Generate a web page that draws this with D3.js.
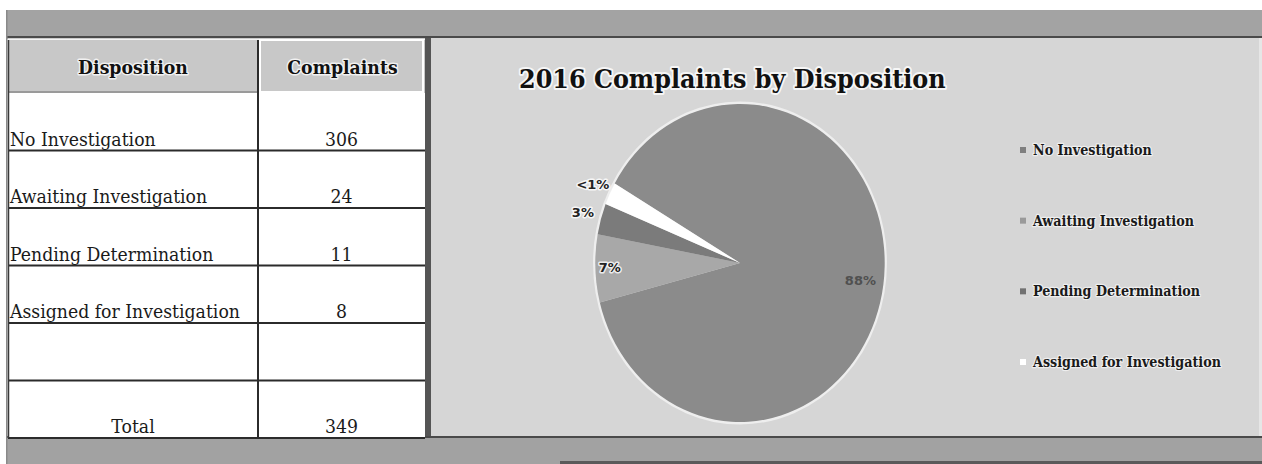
<!DOCTYPE html>
<html>
<head>
<meta charset="utf-8">
<script src="https://cdn.jsdelivr.net/npm/d3@7"></script>
<style>
  html, body { margin: 0; padding: 0; background: #ffffff; }
  svg { display: block; }
</style>
</head>
<body>
<svg id="chart" width="1262" height="464"></svg>
<script>
// Complaint dispositions for 2016
const categories = ["No Investigation", "Awaiting Investigation", "Pending Determination", "Assigned for Investigation"];
const complaints = [306, 24, 11, 8];
const totalLabel = "Total";
const totalValue = 349;
const sliceLabels = ["88%", "7%", "3%", "<1%"];
const headers = ["Disposition", "Complaints"];
const chartTitle = "2016 Complaints by Disposition";

const W = 1262, H = 464;
const svg = d3.select("#chart");
const SX = 0.91; // horizontal squeeze used for all lettering and the pie

// text helper: places text with a horizontal squeeze
function label(g, x, y, str, opts) {
  const t = g.append("text")
    .attr("transform", `translate(${x},${y}) scale(${SX},1)`)
    .attr("text-anchor", opts.anchor || "start")
    .attr("font-family", opts.family || "'DejaVu Serif', serif")
    .attr("font-size", opts.size)
    .attr("font-weight", opts.weight || "normal")
    .attr("fill", opts.fill || "#111")
    .text(str);
  if (opts.halo) {
    t.attr("stroke", "#ffffff")
     .attr("stroke-opacity", opts.haloOpacity || 0.75)
     .attr("stroke-width", opts.halo)
     .attr("stroke-linejoin", "round")
     .attr("paint-order", "stroke");
  }
  return t;
}

// ---- frame bands ----
svg.append("rect").attr("x", 7).attr("y", 10).attr("width", W - 7).attr("height", 27).attr("fill", "#a3a3a3");
svg.append("rect").attr("x", 7).attr("y", 36).attr("width", W - 7).attr("height", 2.5).attr("fill", "#4a4a4a");
svg.append("rect").attr("x", 7).attr("y", 437).attr("width", W - 7).attr("height", 27).attr("fill", "#a2a2a2");
svg.append("rect").attr("x", 7).attr("y", 436).attr("width", W - 7).attr("height", 2).attr("fill", "#4a4a4a");
svg.append("rect").attr("x", 560).attr("y", 461).attr("width", W - 560).attr("height", 3).attr("fill", "#5a5a5a");
svg.append("rect").attr("x", 6).attr("y", 10).attr("width", 1.5).attr("height", H - 10).attr("fill", "#8a8a8a");

// ---- table ----
const table = svg.append("g");
const tLeft = 8, tMid = 258, tRight = 425;
const headTop = 40, headBottom = 93, tBottom = 438;
const rows = categories.map((c, i) => ({ name: c, value: String(complaints[i]) }))
  .concat([{ name: "", value: "" }, { name: totalLabel, value: String(totalValue), center: true }]);
const rowY = d3.scaleBand().domain(d3.range(rows.length)).range([headBottom, tBottom]);

table.append("rect").attr("x", tLeft).attr("y", headBottom).attr("width", tRight - tLeft).attr("height", tBottom - headBottom).attr("fill", "#ffffff");
table.append("rect").attr("x", tLeft).attr("y", headTop).attr("width", tRight - tLeft).attr("height", headBottom - headTop).attr("fill", "#c8c8c8");
table.append("rect").attr("x", tLeft).attr("y", 38.5).attr("width", tRight - tLeft).attr("height", 1.5).attr("fill", "#f4f4f4");
// white inset border round the second header cell
table.append("rect").attr("x", tMid + 2).attr("y", headTop).attr("width", tRight - tMid - 4).attr("height", headBottom - headTop - 1)
  .attr("fill", "none").attr("stroke", "#ffffff").attr("stroke-width", 2);
table.append("rect").attr("x", tLeft).attr("y", headBottom - 2).attr("width", tMid - tLeft).attr("height", 2).attr("fill", "#9a9a9a");

// grid lines
rows.forEach((r, i) => {
  table.append("line").attr("x1", tLeft).attr("x2", tRight)
    .attr("y1", rowY(i) + rowY.bandwidth()).attr("y2", rowY(i) + rowY.bandwidth())
    .attr("stroke", "#2b2b2b").attr("stroke-width", 2);
});
table.append("line").attr("x1", tMid).attr("x2", tMid).attr("y1", headTop).attr("y2", tBottom)
  .attr("stroke", "#2b2b2b").attr("stroke-width", 2);
table.append("line").attr("x1", tLeft + 0.5).attr("x2", tLeft + 0.5).attr("y1", headTop).attr("y2", tBottom)
  .attr("stroke", "#3a3a3a").attr("stroke-width", 1.5);

// header text
label(table, (tLeft + tMid) / 2, 74, headers[0], { anchor: "middle", size: 19, weight: "bold", halo: 3 });
label(table, (tMid + tRight) / 2 + 1, 74, headers[1], { anchor: "middle", size: 19, weight: "bold", halo: 3 });

// row text
rows.forEach((r, i) => {
  const base = rowY(i) + rowY.bandwidth() - 5;
  if (r.name) {
    if (r.center) label(table, (tLeft + tMid) / 2, base, r.name, { anchor: "middle", size: 19, fill: "#1a1a1a" });
    else label(table, 10, base, r.name, { size: 19, fill: "#1a1a1a" });
  }
  if (r.value) label(table, (tMid + tRight) / 2, base, r.value, { anchor: "middle", size: 19, fill: "#1a1a1a" });
});

// ---- chart area ----
const cLeft = 425, cTop = 38, cRight = W, cBottom = 436;
svg.append("rect").attr("x", cLeft).attr("y", cTop).attr("width", 6).attr("height", cBottom - cTop).attr("fill", "#555555");
svg.append("rect").attr("x", cLeft + 6).attr("y", cTop).attr("width", cRight - cLeft - 6).attr("height", cBottom - cTop).attr("fill", "#d6d6d6");
svg.append("rect").attr("x", W - 3).attr("y", cTop).attr("width", 3).attr("height", cBottom - cTop).attr("fill", "#e6e6e6");

const chart = svg.append("g");
label(chart, 519, 88, chartTitle, { size: 26.3, weight: "bold", fill: "#111", halo: 4, haloOpacity: 0.8 });

// pie
const colors = d3.scaleOrdinal().domain(categories).range(["#8b8b8b", "#a8a8a8", "#7b7b7b", "#ffffff"]);
const R = 159;
const a0 = 300 * Math.PI / 180;
const pie = d3.pie().sort(null).value(d => d.value).startAngle(a0).endAngle(a0 + 2 * Math.PI);
const arcs = pie(categories.map((c, i) => ({ name: c, value: complaints[i], label: sliceLabels[i] })));
const arc = d3.arc().innerRadius(0).outerRadius(R);

const pieG = chart.append("g").attr("transform", `translate(740,263) scale(${SX},1)`);
pieG.append("circle").attr("r", R + 1).attr("fill", "none").attr("stroke", "#eeeeee").attr("stroke-width", 3);
pieG.selectAll("path.slice").data(arcs).join("path")
  .attr("class", "slice")
  .attr("d", arc)
  .attr("fill", d => colors(d.data.name));

// slice labels: small slices sit outside the rim, large ones inside
const cx = 740, cy = 263;
arcs.forEach(d => {
  const frac = d.value / d3.sum(complaints);
  const rr = frac < 0.05 ? R * 1.13 : (frac > 0.5 ? R * 0.84 : R * 0.9);
  const mid = (d.startAngle + d.endAngle) / 2;
  const x = cx + Math.sin(mid) * rr * SX;
  const y = cy - Math.cos(mid) * rr + 4;
  const big = frac > 0.5;
  const t = chart.append("text")
    .attr("x", x).attr("y", y)
    .attr("text-anchor", "middle")
    .attr("font-family", "'DejaVu Sans', Verdana, sans-serif")
    .attr("font-size", 13)
    .attr("font-weight", "bold")
    .attr("fill", big ? "#505050" : "#222222")
    .text(d.data.label);
  if (!big) {
    t.attr("stroke", "#ffffff").attr("stroke-opacity", 0.8).attr("stroke-width", 3)
     .attr("stroke-linejoin", "round").attr("paint-order", "stroke");
  }
});

// legend
const legY = d3.scalePoint().domain(categories).range([155, 367]);
const legend = chart.append("g");
categories.forEach(c => {
  legend.append("rect").attr("x", 1020).attr("y", legY(c) - 8).attr("width", 6).attr("height", 6)
    .attr("fill", colors(c) === "#ffffff" ? "#ffffff" : d3.color(colors(c)).darker(0.25));
  label(legend, 1033, legY(c), c, { size: 14, weight: "bold", fill: "#1a1a1a", halo: 2.5, haloOpacity: 0.6 });
});
</script>
</body>
</html>
